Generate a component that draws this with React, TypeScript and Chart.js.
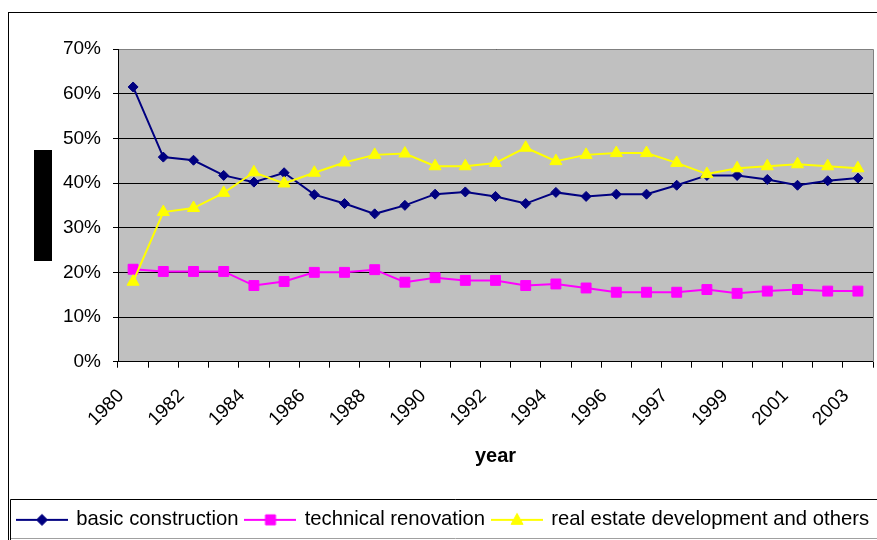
import React, { useEffect, useRef } from "react";
import { Chart, registerables } from "chart.js";

Chart.register(...registerables);

// ---- data ----
const years = [
  "1980", "1981", "1982", "1983", "1984", "1985", "1986", "1987", "1988", "1989",
  "1990", "1991", "1992", "1993", "1994", "1995", "1996", "1996", "1997", "1998",
  "1999", "2000", "2001", "2002", "2003",
];
const basicConstruction = [
  61.5, 45.8, 45.1, 41.7, 40.2, 42.3, 37.4, 35.4, 33.1, 35.0,
  37.5, 38.0, 37.0, 35.4, 37.9, 37.0, 37.5, 37.5, 39.5, 41.7,
  41.7, 40.8, 39.5, 40.5, 41.1,
];
const technicalRenovation = [
  20.7, 20.2, 20.2, 20.2, 17.05, 17.95, 20.0, 20.0, 20.6, 17.8,
  18.8, 18.2, 18.2, 17.05, 17.4, 16.5, 15.55, 15.55, 15.55, 16.15,
  15.3, 15.8, 16.15, 15.8, 15.8,
];
const realEstate = [
  17.9, 33.5, 34.4, 37.8, 42.4, 39.9, 42.3, 44.6, 46.3, 46.6,
  43.75, 43.75, 44.5, 47.9, 44.9, 46.3, 46.7, 46.7, 44.5, 42.0,
  43.3, 43.75, 44.2, 43.75, 43.3,
];
const seriesNames = ["basic construction", "technical renovation", "real estate development and others"];
const yMin = 0;
const yMax = 70;
const yStep = 10;
const xTitle = "year";

const FONT = 'Arial, "Liberation Sans", Helvetica, sans-serif';
const NAVY = "#000080";
const MAGENTA = "#FF00FF";
const YELLOW = "#FFFF00";

function drawMarker(ctx: CanvasRenderingContext2D, kind: string, cx: number, cy: number, color: string) {
  ctx.fillStyle = color;
  ctx.strokeStyle = color;
  ctx.lineWidth = 1;
  ctx.beginPath();
  if (kind === "diamond") {
    const r = 5.5;
    ctx.moveTo(cx - r, cy);
    ctx.lineTo(cx, cy - r);
    ctx.lineTo(cx + r, cy);
    ctx.lineTo(cx, cy + r);
    ctx.closePath();
  } else if (kind === "square") {
    ctx.rect(cx - 5, cy - 5, 10, 10);
  } else {
    ctx.moveTo(cx, cy - 6.5);
    ctx.lineTo(cx + 6, cy + 4.5);
    ctx.lineTo(cx - 6, cy + 4.5);
    ctx.closePath();
  }
  ctx.fill();
  ctx.stroke();
}

function makeIcon(color: string, kind: string): HTMLCanvasElement {
  const c = document.createElement("canvas");
  c.width = 52;
  c.height = 16;
  const ctx = c.getContext("2d")!;
  ctx.strokeStyle = color;
  ctx.lineWidth = 2;
  ctx.beginPath();
  ctx.moveTo(0, 8);
  ctx.lineTo(52, 8);
  ctx.stroke();
  drawMarker(ctx, kind, 26, 8, color);
  return c;
}

const framePlugin = {
  id: "frame",
  beforeDraw(chart: any) {
    const { ctx, chartArea: a, width, height } = chart;
    ctx.save();
    ctx.fillStyle = "#ffffff";
    ctx.fillRect(0, 0, width, height);
    ctx.fillStyle = "#c0c0c0";
    ctx.fillRect(a.left, a.top, a.right - a.left, a.bottom - a.top);
    ctx.restore();
  },
  beforeDatasetsDraw(chart: any) {
    const { ctx, chartArea: a } = chart;
    ctx.save();
    ctx.strokeStyle = "#808080";
    ctx.lineWidth = 1;
    ctx.beginPath();
    ctx.moveTo(Math.round(a.left) + 1, Math.round(a.top) + 0.5);
    ctx.lineTo(Math.round(a.right) + 0.5, Math.round(a.top) + 0.5);
    ctx.lineTo(Math.round(a.right) + 0.5, Math.round(a.bottom));
    ctx.stroke();
    ctx.restore();
  },
  afterDraw(chart: any) {
    const { ctx, chartArea: a, width, height, legend, scales } = chart;
    ctx.save();
    // outer chart border
    ctx.strokeStyle = "#000";
    ctx.lineWidth = 1;
    ctx.strokeRect(8.5, 12.5, width + 10, height + 10);
    // legend box
    const lt = Math.round(legend.top) - 2.5;
    ctx.beginPath();
    ctx.moveTo(width + 5, lt);
    ctx.lineTo(10.5, lt);
    ctx.lineTo(10.5, height);
    ctx.stroke();
    ctx.strokeStyle = "#a0a0a0";
    ctx.beginPath();
    ctx.moveTo(11, height - 1.5);
    ctx.lineTo(width, height - 1.5);
    ctx.stroke();
    // (redacted) y axis title block
    const cy = (a.top + a.bottom) / 2;
    ctx.fillStyle = "#000";
    ctx.fillRect(scales.y.left + 24, Math.round(cy - 55), 18, 111);
    ctx.restore();
  },
};

export default function App() {
  const ref = useRef<HTMLCanvasElement | null>(null);

  useEffect(() => {
    if (!ref.current) return;
    const icons = [makeIcon(NAVY, "diamond"), makeIcon(MAGENTA, "square"), makeIcon(YELLOW, "triangle")];
    const chart = new Chart(ref.current, {
      type: "line",
      data: {
        labels: years,
        datasets: [
          {
            label: seriesNames[0],
            data: basicConstruction,
            borderColor: NAVY,
            backgroundColor: NAVY,
            borderWidth: 2,
            pointStyle: "rectRot",
            pointRadius: 5,
            pointBorderWidth: 1,
            pointBorderColor: NAVY,
            pointBackgroundColor: NAVY,
            order: 3,
          },
          {
            label: seriesNames[1],
            data: technicalRenovation,
            borderColor: MAGENTA,
            backgroundColor: MAGENTA,
            borderWidth: 2,
            pointStyle: "rect",
            pointRadius: 7,
            pointBorderWidth: 1,
            pointBorderColor: MAGENTA,
            pointBackgroundColor: MAGENTA,
            order: 2,
          },
          {
            label: seriesNames[2],
            data: realEstate,
            borderColor: YELLOW,
            backgroundColor: YELLOW,
            borderWidth: 2,
            pointStyle: "triangle",
            pointRadius: 7,
            pointBorderWidth: 1,
            pointBorderColor: YELLOW,
            pointBackgroundColor: YELLOW,
            order: 1,
          },
        ],
      },
      options: {
        animation: false,
        responsive: false,
        devicePixelRatio: 1,
        layout: { padding: { left: 10, right: 0, top: 49, bottom: 0 } },
        elements: { line: { tension: 0 } },
        plugins: {
          tooltip: { enabled: false },
          title: { display: false },
          legend: {
            display: true,
            position: "bottom",
            align: "start",
            labels: {
              usePointStyle: true,
              pointStyleWidth: 48,
              padding: 8,
              color: "#000",
              font: { family: FONT, size: 20.3 },
              generateLabels: (c: any) => {
                const items = (Chart as any).defaults.plugins.legend.labels.generateLabels(c);
                items.sort((p: any, q: any) => p.datasetIndex - q.datasetIndex);
                items.forEach((it: any) => {
                  it.pointStyle = icons[it.datasetIndex];
                });
                return items;
              },
            },
          },
        },
        scales: {
          x: {
            type: "category",
            offset: true,
            grid: {
              display: true,
              offset: true,
              drawOnChartArea: false,
              drawTicks: true,
              tickLength: 6,
              color: "#000",
              tickColor: "#000",
            },
            border: { display: true, color: "#000", width: 1 },
            ticks: {
              autoSkip: false,
              maxRotation: 45,
              minRotation: 45,
              padding: 17,
              labelOffset: -12,
              color: "#000",
              font: { family: FONT, size: 19 },
              callback: (_v: any, i: number) => (i % 2 === 0 ? years[i] : ""),
            },
            title: {
              display: true,
              text: xTitle,
              color: "#000",
              font: { family: FONT, size: 20, weight: "bold" },
              padding: { top: 0, bottom: 33 },
            },
            afterFit: (s: any) => {
              s.height = 140;
            },
          },
          y: {
            type: "linear",
            position: "left",
            min: yMin,
            max: yMax,
            grid: {
              color: "#000",
              tickColor: "#000",
              lineWidth: 1,
              tickLength: 5,
              drawTicks: true,
            },
            border: { display: true, color: "#000", width: 1 },
            ticks: {
              stepSize: yStep,
              padding: 12,
              color: "#000",
              font: { family: FONT, size: 19 },
              callback: (v: any) => v + "%",
            },
            afterFit: (s: any) => {
              s.width = 108;
            },
          },
          yR: {
            type: "linear",
            position: "right",
            display: true,
            grid: { display: false, drawTicks: false },
            border: { display: false },
            ticks: { display: false },
            afterFit: (s: any) => {
              s.width = 27;
            },
          },
        },
      },
      plugins: [framePlugin],
    } as any);
    return () => chart.destroy();
  }, []);

  return (
    <div
      style={{
        position: "fixed",
        left: 0,
        top: 0,
        width: 877,
        height: 540,
        overflow: "hidden",
        background: "#fff",
      }}
    >
      <canvas ref={ref} width={900} height={540} style={{ display: "block", width: 900, height: 540 }} />
    </div>
  );
}
